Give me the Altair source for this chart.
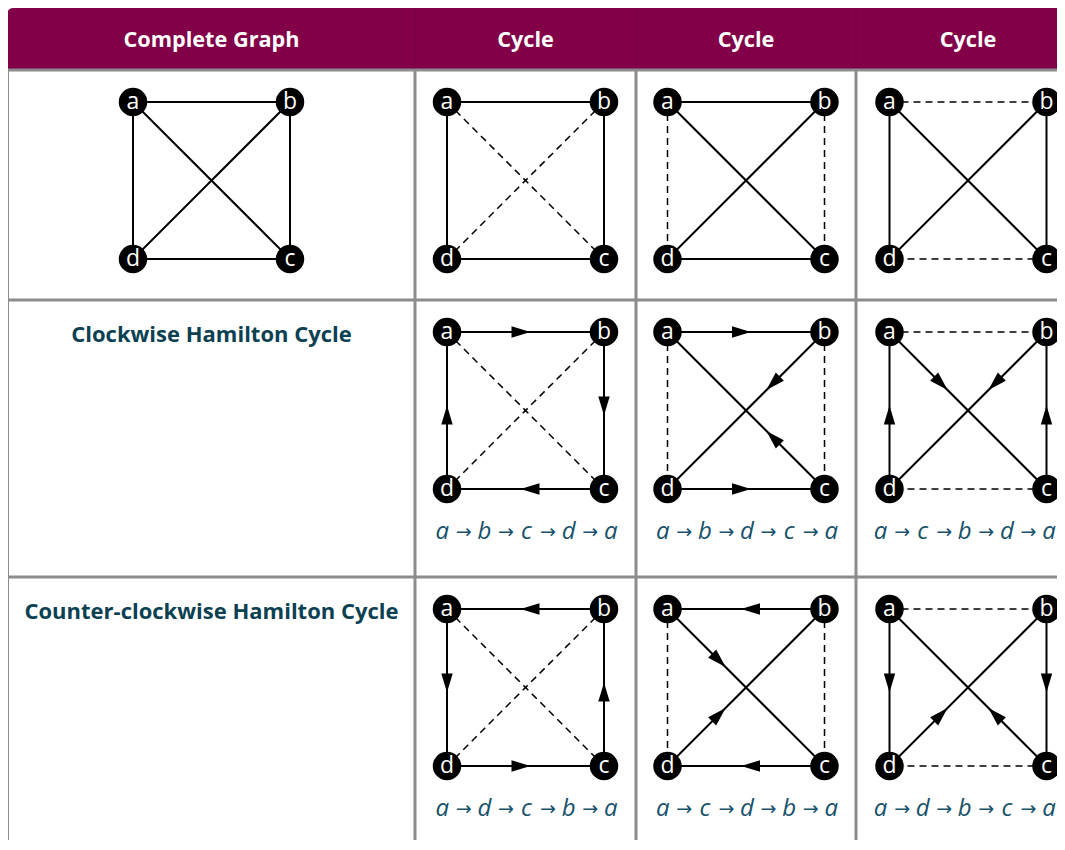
import math
import altair as alt
import pandas as pd

# ---------------- data ----------------
node_names = ["a", "b", "c", "d"]
header_labels = ["Complete Graph", "Cycle", "Cycle", "Cycle"]
row_labels = ["", "Clockwise Hamilton Cycle", "Counter-clockwise Hamilton Cycle"]
complete_edges = ["ab", "ac", "ad", "bc", "bd", "cd"]
clockwise_cycles = ["abcda", "abdca", "acbda"]
counter_cycles = ["adcba", "acdba", "adbca"]
ARROW = "\u2192"

# ---------------- layout (page pixels) ----------------
W, H = 1049, 832
X0, Y0 = 8, 8
col_edges = [8, 415, 636, 856, 1080]
row_edges = [8, 70, 300, 577, 850]
SIDE = 157
TOP_OFF = 32
corner = {"a": (0, 0), "b": (1, 0), "c": (1, 1), "d": (0, 1)}
HEADER = "#810048"
TEAL = "#0c4152"
CAPTION = "#17516a"
GRID = "#8c8c8c"
FONT = "Open Sans"
PITCH = 42.1      # spacing of the letters in a cycle caption
ARROW_OFF = 21.5  # arrow placed this far after its letter

col_cx = [(col_edges[i] + col_edges[i + 1]) / 2 for i in range(4)]


def node_pos(r, c):
    ox = col_cx[c] - SIDE / 2
    oy = row_edges[r + 1] + TOP_OFF
    return {n: (ox + corner[n][0] * SIDE, oy + corner[n][1] * SIDE) for n in node_names}


def pair(u, v):
    return "".join(sorted(u + v))


edge_rows, arrow_rows, node_rows, let_rows, arr_txt_rows = [], [], [], [], []
for r in range(3):
    for c in range(4):
        if r > 0 and c == 0:
            continue
        pos = node_pos(r, c)
        if c == 0:
            solid = set(complete_edges)
            directed = []
        else:
            cyc = (clockwise_cycles if r < 2 else counter_cycles)[c - 1]
            directed = [(cyc[i], cyc[i + 1]) for i in range(4)]
            solid = {pair(u, v) for u, v in directed}
            if r == 0:
                directed = []
        for e in complete_edges:
            (x1, y1), (x2, y2) = pos[e[0]], pos[e[1]]
            edge_rows.append(dict(x=x1, y=y1, x2=x2, y2=y2,
                                  style="solid" if e in solid else "dashed"))
        for u, v in directed:
            (sx, sy), (tx, ty) = pos[u], pos[v]
            dx, dy = tx - sx, ty - sy
            L = math.hypot(dx, dy)
            ux, uy = dx / L, dy / L
            if dx != 0 and dy != 0:
                tipx, tipy = sx + 0.37 * dx, sy + 0.37 * dy
            else:
                tipx, tipy = sx + dx / 2 + 5 * ux, sy + dy / 2 + 5 * uy
            rr = 9.5
            arrow_rows.append(dict(x=tipx - rr * ux, y=tipy - rr * uy,
                                   ang=math.degrees(math.atan2(uy, ux)) % 360))
        for n in node_names:
            node_rows.append(dict(x=pos[n][0], y=pos[n][1], label=n))
        if r > 0:
            cyc = (clockwise_cycles if r == 1 else counter_cycles)[c - 1]
            cx = min(col_cx[c] + 1, X0 + W - 2 * PITCH - 8)
            base = pos["d"][1] + 50
            for i, ch in enumerate(cyc):
                lx = cx + (i - 2) * PITCH
                let_rows.append(dict(x=lx, y=base, label=ch))
                if i < len(cyc) - 1:
                    arr_txt_rows.append(dict(x=lx + ARROW_OFF, y=base - 1, label=ARROW))

edges_df = pd.DataFrame(edge_rows)
arrows_df = pd.DataFrame(arrow_rows)
nodes_df = pd.DataFrame(node_rows)
letters_df = pd.DataFrame(let_rows)
arrow_txt_df = pd.DataFrame(arr_txt_rows)

header_df = pd.DataFrame([dict(x=7, x2=1080, y=8, y2=row_edges[1])])
header_text_df = pd.DataFrame([dict(x=col_cx[i], y=40, label=header_labels[i]) for i in range(4)])
row_text_df = pd.DataFrame([dict(x=col_cx[0], y=row_edges[r + 1] + 35, label=row_labels[r])
                            for r in range(1, 3)])
vgrid_df = pd.DataFrame([dict(x=x, y=row_edges[1], y2=row_edges[4]) for x in col_edges[1:4]])
hgrid_df = pd.DataFrame([dict(y=y, x=8, x2=1080) for y in row_edges[1:4]])
left_df = pd.DataFrame([dict(x=8, y=row_edges[1], y2=row_edges[4])])
hsep_df = pd.DataFrame([dict(x=x, y=8, y2=row_edges[1]) for x in col_edges[1:4]])

xs = alt.Scale(domain=[X0, X0 + W], range=[0, W])
ys = alt.Scale(domain=[Y0, Y0 + H], range=[0, H])


def X(f="x"):
    return alt.X(f"{f}:Q", scale=xs, axis=None)


def Y(f="y"):
    return alt.Y(f"{f}:Q", scale=ys, axis=None)


header = alt.Chart(header_df).mark_rect(color=HEADER, cornerRadiusTopLeft=6).encode(
    x=X(), x2="x2:Q", y=Y(), y2="y2:Q")
hsep = alt.Chart(hsep_df).mark_rule(color="#74003f", strokeWidth=1).encode(
    x=X(), y=Y(), y2="y2:Q")
header_text = alt.Chart(header_text_df).mark_text(
    font=FONT, fontSize=21.7, fontWeight="bold", color="white", align="center", baseline="middle"
).encode(x=X(), y=Y(), text="label:N")

vgrid = alt.Chart(vgrid_df).mark_rule(color=GRID, strokeWidth=3).encode(x=X(), y=Y(), y2="y2:Q")
hgrid = alt.Chart(hgrid_df).mark_rule(color=GRID, strokeWidth=3).encode(y=Y(), x=X(), x2="x2:Q")
left = alt.Chart(left_df).mark_rule(color=GRID, strokeWidth=2).encode(x=X(), y=Y(), y2="y2:Q")

row_text = alt.Chart(row_text_df).mark_text(
    font=FONT, fontSize=22, fontWeight="bold", color=TEAL, align="center", baseline="middle"
).encode(x=X(), y=Y(), text="label:N")

solid = alt.Chart(edges_df).transform_filter(alt.datum.style == "solid").mark_rule(
    color="black", strokeWidth=2).encode(x=X(), y=Y(), x2="x2:Q", y2="y2:Q")
dashed = alt.Chart(edges_df).transform_filter(alt.datum.style == "dashed").mark_rule(
    color="black", strokeWidth=1.5, strokeDash=[7, 5]).encode(x=X(), y=Y(), x2="x2:Q", y2="y2:Q")

arrows = alt.Chart(arrows_df).mark_point(
    shape="M1,0L-1,-0.6L-1,0.6Z", filled=True, size=361, color="black", opacity=1, strokeWidth=0
).encode(x=X(), y=Y(), angle=alt.Angle("ang:Q", scale=None))

nodes = alt.Chart(nodes_df).mark_point(
    shape="circle", filled=True, size=812, color="black", opacity=1, strokeWidth=0
).encode(x=X(), y=Y())
node_text = alt.Chart(nodes_df).mark_text(
    font=FONT, fontSize=23, color="white", align="center", baseline="middle"
).encode(x=X(), y=Y(), text="label:N")

cap_letters = alt.Chart(letters_df).mark_text(
    font=FONT, fontSize=24, fontStyle="italic", color=CAPTION, align="center", baseline="alphabetic"
).encode(x=X(), y=Y(), text="label:N")
cap_arrows = alt.Chart(arrow_txt_df).mark_text(
    font="DejaVu Sans", fontSize=19, color=CAPTION, align="center", baseline="alphabetic"
).encode(x=X(), y=Y(), text="label:N")

chart = alt.layer(
    header, hsep, header_text, vgrid, hgrid, left, row_text,
    dashed, solid, arrows, nodes, node_text, cap_letters, cap_arrows
).properties(
    width=W, height=H, padding=0, autosize=alt.AutoSizeParams(type="none"), background="white"
).configure_view(stroke=None)

chart.save("out.html", embed_options={"renderer": "svg", "actions": False})
